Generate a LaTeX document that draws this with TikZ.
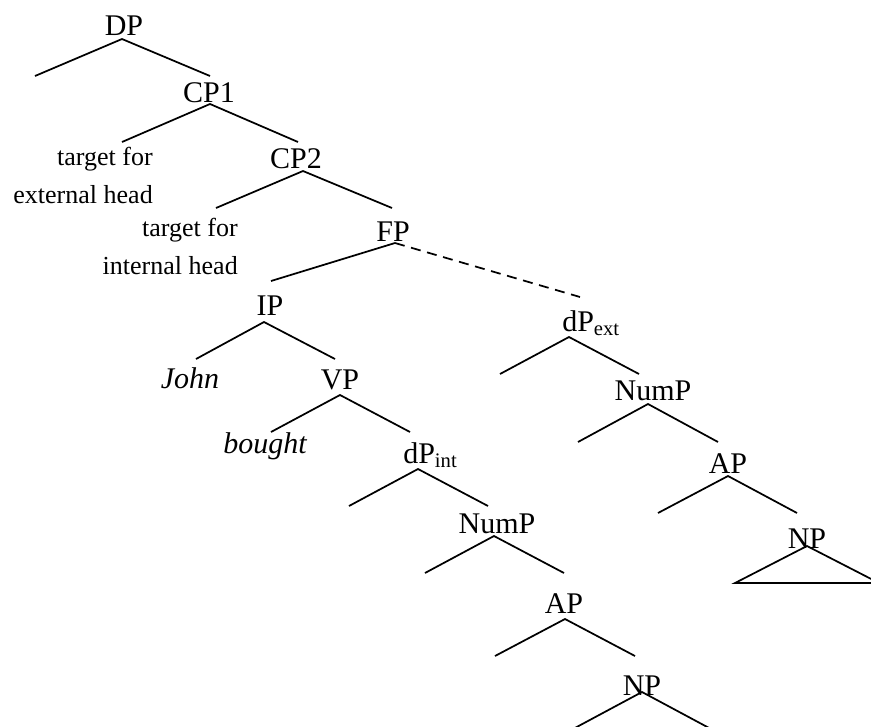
\documentclass[tikz,border=0pt]{standalone}
\usepackage{fontspec}
\setmainfont{Liberation Serif}
\usetikzlibrary{positioning}
\newcommand{\lowsub}[1]{\raisebox{-3pt}{\fontsize{15.5}{16}\selectfont #1}}

\begin{document}
\begin{tikzpicture}[
    x=0.75pt, y=-0.75pt,
    every node/.style={font=\fontsize{22.5}{27}\selectfont, inner sep=0pt},
    cat/.style={anchor=base},
    catsub/.style={anchor=base west},
    word/.style={anchor=base, font=\fontsize{22.5}{27}\selectfont\itshape},
    note/.style={anchor=base east, align=right, font=\fontsize{19.5}{28.5}\selectfont},
    branch/.style={line width=1.3pt},
    link/.style={line width=1.3pt, dash pattern=on 7.5pt off 5pt}
  ]
    \useasboundingbox (0,0) rectangle (871,726);
    \clip (0,0) rectangle (871,726);

    \node[cat] (dp) at (124,35) {DP};
    \node[cat] (cpone) at (209,102) {CP1};
    \node[note] (tgtext) at (153,203) {target for\\external head};
    \node[cat] (cptwo) at (296,168) {CP2};
    \node[note] (tgtint) at (238,274) {target for\\internal head};
    \node[cat] (fp) at (393,241) {FP};
    \node[cat] (ip) at (270,315) {IP};
    \node[word] (john) at (190,388) {John};
    \node[cat] (vp) at (340,389) {VP};
    \node[word] (bought) at (265,453) {bought};
    \node[catsub] (dpint) at (403,463) {dP\lowsub{int}};
    \node[cat] (numpint) at (497,533) {NumP};
    \node[cat] (apint) at (564,613) {AP};
    \node[cat] (npint) at (642,695) {NP};
    \node[catsub] (dpext) at (562,331) {dP\lowsub{ext}};
    \node[cat] (numpext) at (653,400) {NumP};
    \node[cat] (apext) at (728,473) {AP};
    \node[cat] (npext) at (807,548) {NP};

    \coordinate (dp-v) at (122,39);
    \coordinate (dp-l) at (35,76);
    \coordinate (dp-r) at (210,76);
    \coordinate (cpone-v) at (210,104);
    \coordinate (cpone-l) at (122,142);
    \coordinate (cpone-r) at (298,142);
    \coordinate (cptwo-v) at (303,171);
    \coordinate (cptwo-l) at (216,208);
    \coordinate (cptwo-r) at (392,208);
    \coordinate (fp-v) at (395,243);
    \coordinate (fp-l) at (271,281);
    \coordinate (fp-r) at (580,297);
    \coordinate (ip-v) at (264,322);
    \coordinate (ip-l) at (196,359);
    \coordinate (ip-r) at (335,359);
    \coordinate (vp-v) at (340,395);
    \coordinate (vp-l) at (271,432);
    \coordinate (vp-r) at (410,432);
    \coordinate (dpint-v) at (418,469);
    \coordinate (dpint-l) at (349,506);
    \coordinate (dpint-r) at (488,506);
    \coordinate (numpint-v) at (494,536);
    \coordinate (numpint-l) at (425,573);
    \coordinate (numpint-r) at (564,573);
    \coordinate (apint-v) at (565,619);
    \coordinate (apint-l) at (495,656);
    \coordinate (apint-r) at (635,656);
    \coordinate (npint-v) at (642,692);
    \coordinate (npint-l) at (573,729);
    \coordinate (npint-r) at (711,729);
    \coordinate (dpext-v) at (569,337);
    \coordinate (dpext-l) at (500,374);
    \coordinate (dpext-r) at (639,374);
    \coordinate (numpext-v) at (648,404);
    \coordinate (numpext-l) at (578,442);
    \coordinate (numpext-r) at (718,442);
    \coordinate (apext-v) at (728,476);
    \coordinate (apext-l) at (658,513);
    \coordinate (apext-r) at (797,513);
    \coordinate (npext-v) at (807,546);
    \coordinate (npext-l) at (735,583);
    \coordinate (npext-r) at (879,583);

    \draw[branch] (dp-l) -- (dp-v) -- (dp-r);
    \draw[branch] (cpone-l) -- (cpone-v) -- (cpone-r);
    \draw[branch] (cptwo-l) -- (cptwo-v) -- (cptwo-r);
    \draw[branch] (fp-l) -- (fp-v);
    \draw[link] (fp-v) -- (fp-r);
    \draw[branch] (ip-l) -- (ip-v) -- (ip-r);
    \draw[branch] (vp-l) -- (vp-v) -- (vp-r);
    \draw[branch] (dpint-l) -- (dpint-v) -- (dpint-r);
    \draw[branch] (numpint-l) -- (numpint-v) -- (numpint-r);
    \draw[branch] (apint-l) -- (apint-v) -- (apint-r);
    \draw[branch] (npint-l) -- (npint-v) -- (npint-r);
    \draw[branch] (dpext-l) -- (dpext-v) -- (dpext-r);
    \draw[branch] (numpext-l) -- (numpext-v) -- (numpext-r);
    \draw[branch] (apext-l) -- (apext-v) -- (apext-r);
    \draw[branch] (npext-l) -- (npext-v) -- (npext-r) -- cycle;
  \end{tikzpicture}
\end{document}
